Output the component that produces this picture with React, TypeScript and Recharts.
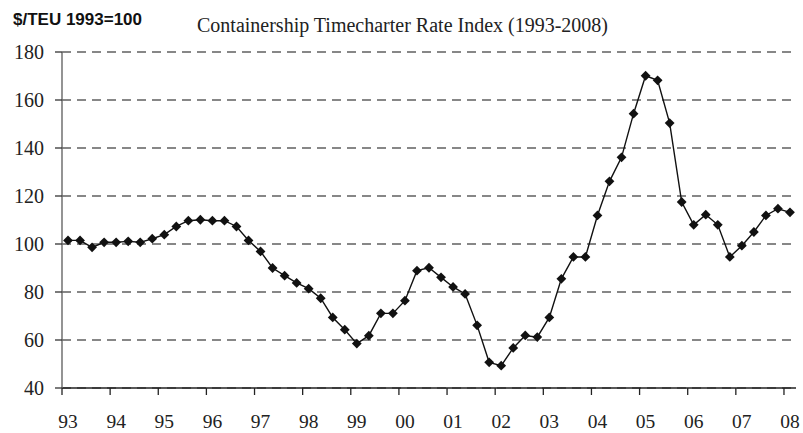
import React from 'react';
import { LineChart, Line, XAxis, YAxis, CartesianGrid } from 'recharts';

// quarterly index values, 1993 Q1 .. 2008 Q1
const rateIndex = [
  101.5, 101.5, 98.6, 100.7, // 93
  100.7, 101.1, 100.7, 102.2, // 94
  103.9, 107.3, 109.7, 110.1, // 95
  109.7, 109.7, 107.3, 101.5, // 96
  96.9, 90.0, 86.8, 83.8, // 97
  81.4, 77.4, 69.4, 64.3, // 98
  58.5, 61.8, 71.1, 71.1, // 99
  76.4, 88.9, 90.1, 86.1, // 00
  82.1, 79.2, 66.1, 50.7, // 01
  49.3, 56.7, 61.9, 61.2, // 02
  69.4, 85.5, 94.6, 94.6, // 03
  111.9, 126.1, 136.1, 154.3, // 04
  170.1, 168.2, 150.4, 117.5, // 05
  108.0, 112.2, 108.0, 94.6, // 06
  99.3, 105.0, 111.9, 114.7, // 07
  113.2, // 08
];

const yearLabels = ['93', '94', '95', '96', '97', '98', '99', '00', '01', '02', '03', '04', '05', '06', '07', '08'];
const yTicks = [40, 60, 80, 100, 120, 140, 160, 180];

const data = rateIndex.map((v, i) => ({ q: i + 0.5, v }));
const yearBounds = yearLabels.map((_, i) => i * 4);

const CHART_W = 803;
const CHART_H = 433;
const Y_AXIS_W = 62;
const MARGIN_R = 7;
const N_QUARTERS = 61;
const halfQuarter = (CHART_W - Y_AXIS_W - MARGIN_R) / N_QUARTERS / 2;

const serif = '"Liberation Serif", "Times New Roman", serif';

// label under the first quarter of each year; the tick mark stays on the year boundary
const YearTick = (props: any) => {
  const { x, y, payload } = props;
  const label = yearLabels[Math.round(payload.value / 4)];
  return (
    <text x={x + halfQuarter} y={y} dy="0.71em" textAnchor="middle" fontFamily={serif} fontSize={19.5} fill="#222">
      {label}
    </text>
  );
};

const Diamond = (props: any) => {
  const { cx, cy } = props;
  if (cx == null || cy == null) return null;
  const r = 4.9;
  return (
    <polygon
      points={`${cx},${cy - r} ${cx + r},${cy} ${cx},${cy + r} ${cx - r},${cy}`}
      fill="#111"
    />
  );
};

const App: React.FC = () => {
  return (
    <div style={{ position: 'absolute', left: 0, top: 0, width: CHART_W, height: CHART_H, background: '#fff' }}>
      <div
        style={{
          position: 'absolute',
          left: 13,
          top: 11,
          fontFamily: '"Liberation Sans", Arial, sans-serif',
          fontWeight: 'bold',
          fontSize: 17,
          lineHeight: '17px',
          color: '#111',
          whiteSpace: 'nowrap',
        }}
      >
        $/TEU 1993=100
      </div>
      <div
        style={{
          position: 'absolute',
          left: 197,
          top: 15,
          fontFamily: serif,
          fontSize: 20,
          lineHeight: '20px',
          color: '#222',
          whiteSpace: 'nowrap',
        }}
      >
        Containership Timecharter Rate Index (1993-2008)
      </div>
      <LineChart width={CHART_W} height={CHART_H} data={data} margin={{ top: 52, right: MARGIN_R, left: 0, bottom: 0 }}>
        <CartesianGrid vertical={false} stroke="#111" strokeWidth={1.1} strokeDasharray="9 6" />
        <XAxis
          dataKey="q"
          type="number"
          domain={[0, N_QUARTERS]}
          ticks={yearBounds}
          tick={<YearTick />}
          tickSize={7}
          tickMargin={19}
          height={45}
          interval={0}
          axisLine={{ stroke: '#222', strokeWidth: 1.4 }}
          tickLine={{ stroke: '#222', strokeWidth: 1.3 }}
        />
        <YAxis
          type="number"
          domain={[40, 180]}
          ticks={yTicks}
          width={Y_AXIS_W}
          tickSize={7}
          tickMargin={11}
          interval={0}
          axisLine={{ stroke: '#666', strokeWidth: 1.4 }}
          tickLine={{ stroke: '#333', strokeWidth: 1.3 }}
          tick={{ fontFamily: serif, fontSize: 20, fill: '#222' }}
        />
        <Line
          dataKey="v"
          type="linear"
          stroke="#111"
          strokeWidth={1.4}
          dot={<Diamond />}
          activeDot={false}
          isAnimationActive={false}
        />
      </LineChart>
    </div>
  );
};

export default App;
